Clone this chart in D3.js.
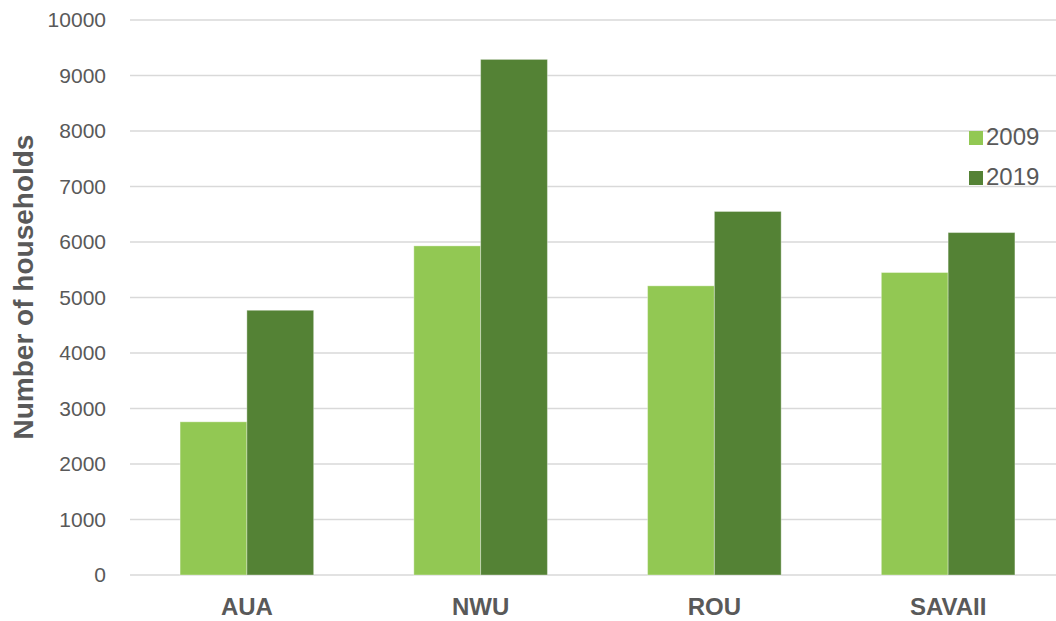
<!DOCTYPE html>
<html>
<head>
<meta charset="utf-8">
<script src="https://cdn.jsdelivr.net/npm/d3@7"></script>
<style>
  html, body { margin: 0; padding: 0; background: #fff; }
  svg { display: block; }
</style>
</head>
<body>
<svg id="chart" width="1056" height="621"></svg>
<script>
const categories = ["AUA", "NWU", "ROU", "SAVAII"];
const seriesNames = ["2009", "2019"];
const values2009 = [2760, 5930, 5210, 5450];
const values2019 = [4770, 9290, 6550, 6170];
const yTicks = [0, 1000, 2000, 3000, 4000, 5000, 6000, 7000, 8000, 9000, 10000];
const colors = ["#92C853", "#548235"];

const svg = d3.select("#chart");
const W = 1056, H = 621;
const plot = { left: 130, right: 1065, top: 20, bottom: 575 };

const y = d3.scaleLinear().domain([0, 10000]).range([plot.bottom, plot.top]);
const x0 = d3.scaleBand().domain(categories).range([plot.left, plot.right])
  .paddingInner(3 / 7).paddingOuter(1.5 / 7);
const x1 = d3.scaleBand().domain(seriesNames).range([0, x0.bandwidth()]).padding(0);

// gridlines
svg.append("g").selectAll("line").data(yTicks).join("line")
  .attr("x1", plot.left).attr("x2", W)
  .attr("y1", d => y(d)).attr("y2", d => y(d))
  .attr("stroke", "#D9D9D9").attr("stroke-width", 1.5);

// y axis labels
const yAxis = d3.axisLeft(y).tickValues(yTicks).tickSize(0).tickPadding(0).tickFormat(d3.format("d"));
const yg = svg.append("g").attr("transform", `translate(106,0)`).call(yAxis);
yg.select(".domain").remove();
yg.selectAll("text")
  .attr("fill", "#595959")
  .style("font-family", "Arial, 'Liberation Sans', sans-serif")
  .style("font-size", "21px");

// bars
const rows = categories.map((c, i) => ({ cat: c, vals: [values2009[i], values2019[i]] }));
const groups = svg.append("g").selectAll("g").data(rows).join("g")
  .attr("transform", d => `translate(${x0(d.cat)},0)`);
groups.selectAll("rect").data(d => d.vals.map((v, j) => ({ key: seriesNames[j], v, j })))
  .join("rect")
  .attr("x", d => x1(d.key))
  .attr("width", x1.bandwidth())
  .attr("y", d => y(d.v))
  .attr("height", d => y(0) - y(d.v))
  .attr("fill", d => colors[d.j])
  .attr("stroke", "#ffffff").attr("stroke-opacity", 0.35).attr("stroke-width", 1);

// x axis labels
const xAxis = d3.axisBottom(x0).tickSize(0).tickPadding(0);
const xg = svg.append("g").attr("transform", `translate(0,${plot.bottom})`).call(xAxis);
xg.select(".domain").remove();
xg.selectAll("text")
  .attr("y", 40).attr("dy", 0)
  .attr("fill", "#595959")
  .style("font-family", "Arial, 'Liberation Sans', sans-serif")
  .style("font-weight", "bold")
  .style("font-size", "24px");

// y title
svg.append("text")
  .attr("transform", `translate(33,287) rotate(-90)`)
  .attr("text-anchor", "middle")
  .attr("fill", "#595959")
  .style("font-family", "Arial, 'Liberation Sans', sans-serif")
  .style("font-weight", "bold")
  .style("font-size", "28px")
  .text("Number of households");

// legend
const legend = svg.append("g").selectAll("g").data(seriesNames).join("g")
  .attr("transform", (d, i) => `translate(969,${131 + i * 40})`);
legend.append("rect").attr("width", 14).attr("height", 14).attr("fill", (d, i) => colors[i]);
legend.append("text")
  .attr("x", 17).attr("y", 14)
  .attr("fill", "#595959")
  .style("font-family", "Arial, 'Liberation Sans', sans-serif")
  .style("font-size", "24px")
  .text(d => d);
</script>
</body>
</html>
